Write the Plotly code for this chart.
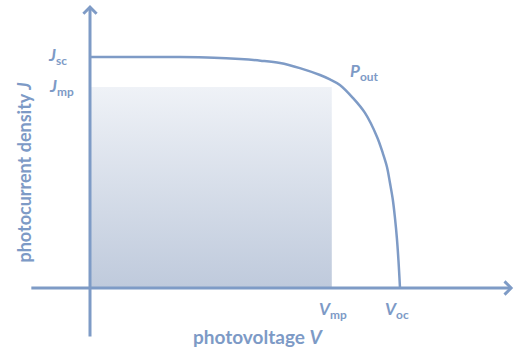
import plotly.graph_objects as go

# J–V characteristic of a solar cell (normalised units)
voltage = [0.0, 0.29, 0.40, 0.484, 0.55, 0.613, 0.677, 0.742, 0.774, 0.806, 0.848, 0.887,
           0.926, 0.945, 0.958, 0.968, 0.977, 0.984, 0.990, 0.995, 1.0]
current = [1.0, 1.0, 0.997, 0.991, 0.984, 0.974, 0.952, 0.922, 0.903, 0.879, 0.823, 0.758,
           0.654, 0.582, 0.524, 0.452, 0.381, 0.300, 0.215, 0.120, 0.0]

J_sc = 1.0
V_oc = 1.0
V_mp = 0.78
J_mp = 0.87

line_col = "#7e9bc6"
text_col = "#7d9ac6"
font_family = "Lato, 'Open Sans', sans-serif"

x_range = [-0.2903, 1.3774]
y_range = [-0.2641, 1.2468]

fig = go.Figure()

# maximum-power rectangle
fig.add_trace(go.Scatter(
    x=[0, V_mp, V_mp, 0, 0],
    y=[0, 0, J_mp, J_mp, 0],
    mode="lines",
    line=dict(width=0),
    fill="toself",
    fillgradient=dict(
        type="vertical",
        start=0,
        stop=J_mp,
        colorscale=[[0, "#bfcadc"], [1, "#eff2f7"]],
    ),
    hoverinfo="skip",
    showlegend=False,
))

# J–V curve
fig.add_trace(go.Scatter(
    x=voltage,
    y=current,
    mode="lines",
    line=dict(color=line_col, width=2.5, shape="spline", smoothing=1.0),
    hoverinfo="skip",
    showlegend=False,
))

annotations = []

# axes with arrow heads
annotations.append(dict(
    x=0, y=1.225, ax=0, ay=-0.216, xref="x", yref="y", axref="x", ayref="y",
    showarrow=True, arrowhead=4, arrowsize=0.85, arrowwidth=3,
    arrowcolor=line_col, standoff=0, text="",
))
annotations.append(dict(
    x=1.365, y=0, ax=-0.194, ay=0, xref="x", yref="y", axref="x", ayref="y",
    showarrow=True, arrowhead=4, arrowsize=0.85, arrowwidth=3,
    arrowcolor=line_col, standoff=0, text="",
))


def label(text, x, y, size=17, textangle=0):
    annotations.append(dict(
        text=text, x=x, y=y, xref="x", yref="y", showarrow=False,
        xanchor="center", yanchor="middle", textangle=textangle,
        font=dict(family=font_family, size=size, color=text_col),
    ))


label("<b><i>J</i><sub>sc</sub></b>", -0.105, J_sc + 0.005)
label("<b><i>J</i><sub>mp</sub></b>", -0.092, J_mp)
label("<b><i>P</i><sub>out</sub></b>", 0.885, 0.935)
label("<b><i>V</i><sub>mp</sub></b>", V_mp + 0.005, -0.095)
label("<b><i>V</i><sub>oc</sub></b>", V_oc - 0.01, -0.095)

# axis titles
label("<b>photovoltage <i>V</i></b>", 0.545, -0.21, size=19)
label("<b>photocurrent density <i>J</i></b>", -0.216, 0.50, size=18, textangle=-90)

fig.update_layout(
    width=517,
    height=349,
    margin=dict(l=0, r=0, t=0, b=0),
    paper_bgcolor="white",
    plot_bgcolor="white",
    xaxis=dict(range=x_range, visible=False, fixedrange=True),
    yaxis=dict(range=y_range, visible=False, fixedrange=True),
    annotations=annotations,
)

fig.write_html("out.html")
